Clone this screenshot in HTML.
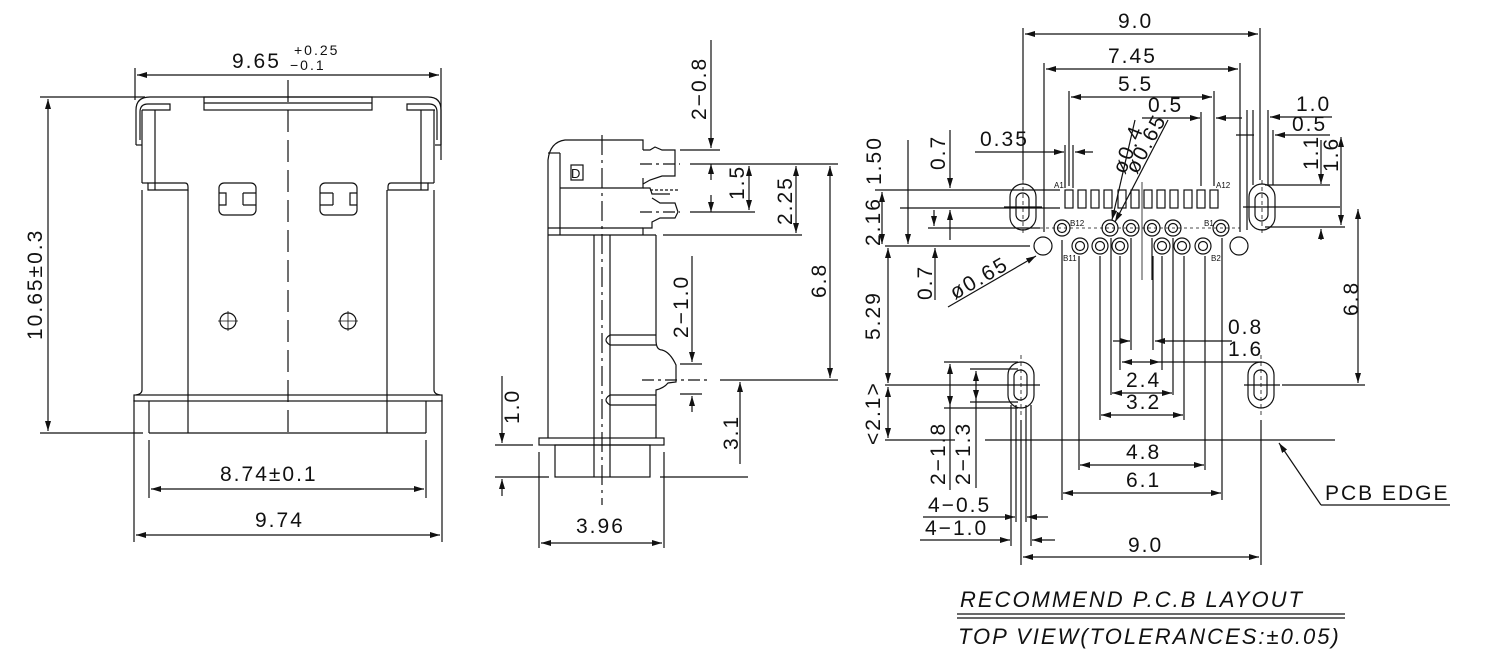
<!DOCTYPE html>
<html><head><meta charset="utf-8"><style>
html,body{margin:0;padding:0;background:#fff;}
svg{display:block}
text{font-family:"Liberation Sans","DejaVu Sans",sans-serif;fill:#111;letter-spacing:2px;}
</style></head><body>
<svg width="1486" height="668" viewBox="0 0 1486 668" xmlns="http://www.w3.org/2000/svg">
<defs>
<marker id="a" viewBox="0 0 10 6" refX="10" refY="3" markerWidth="10" markerHeight="6" markerUnits="userSpaceOnUse" orient="auto-start-reverse"><path d="M0,0 L10,3 L0,6 z" fill="#111"/></marker>
</defs>
<g stroke="#111" stroke-width="1.2" fill="none">
<!-- ===== LEFT VIEW ===== -->
<line x1="135" y1="68" x2="135" y2="100"/><line x1="441" y1="68" x2="441" y2="160"/>
<line x1="137" y1="75" x2="439" y2="75" marker-start="url(#a)" marker-end="url(#a)"/>
<line x1="40" y1="97" x2="145" y2="97"/><line x1="40" y1="433" x2="143" y2="433"/>
<line x1="48" y1="99" x2="48" y2="431" marker-start="url(#a)" marker-end="url(#a)"/>
<path d="M136,145 L136,110 Q136,97 150,97 L428,97 Q441,97 441,110 L441,145"/>
<line x1="136" y1="145" x2="142" y2="145"/><line x1="435" y1="145" x2="441" y2="145"/>
<rect x="204" y="97" width="168" height="13"/>
<line x1="204" y1="103" x2="372" y2="103"/>
<path d="M140,140 L140,112 Q140,104 148,104 L170,104 L170,110 L142,110"/>
<path d="M437,140 L437,112 Q437,104 429,104 L407,104 L407,110 L435,110"/>
<line x1="142" y1="110" x2="142" y2="183"/><line x1="434" y1="110" x2="434" y2="183"/>
<line x1="155" y1="110" x2="155" y2="190"/><line x1="421" y1="110" x2="421" y2="190"/>
<line x1="142" y1="183" x2="148" y2="183"/><line x1="428" y1="183" x2="434" y2="183"/>
<path d="M148,183 L185,183 Q188,183 188,187 L188,190 L148,190 Z"/>
<path d="M428,183 L391,183 Q388,183 388,187 L388,190 L428,190 Z"/>
<line x1="142" y1="190" x2="142" y2="390"/><line x1="434" y1="190" x2="434" y2="390"/>
<line x1="188" y1="190" x2="188" y2="433"/><line x1="387" y1="190" x2="387" y2="433"/>
<path d="M142,390 Q142,394 136,395 M434,390 Q434,394 440,395"/>
<rect x="134" y="395" width="308" height="6"/>
<line x1="149" y1="401" x2="149" y2="433"/><line x1="426" y1="401" x2="426" y2="433"/>
<line x1="149" y1="433" x2="426" y2="433"/>
<line x1="288" y1="80" x2="288" y2="440" stroke-dasharray="22,8"/>
<rect x="219" y="183" width="37" height="32" rx="5"/><path d="M219,193 L226,193 L226,205 L219,205 M243,193 L256,193 M243,205 L256,205 M243,193 L243,205"/>
<rect x="320" y="183" width="37" height="32" rx="5"/><path d="M357,193 L350,193 L350,205 L357,205 M333,193 L320,193 M333,205 L320,205 M333,193 L333,205"/>
<circle cx="228" cy="321" r="8"/><line x1="218" y1="321" x2="238" y2="321" stroke-width="0.8"/><line x1="228" y1="311" x2="228" y2="331" stroke-width="0.8"/>
<circle cx="348" cy="321" r="8"/><line x1="338" y1="321" x2="358" y2="321" stroke-width="0.8"/><line x1="348" y1="311" x2="348" y2="331" stroke-width="0.8"/>
<line x1="149" y1="440" x2="149" y2="498"/><line x1="426" y1="440" x2="426" y2="498"/>
<line x1="151" y1="489" x2="424" y2="489" marker-start="url(#a)" marker-end="url(#a)"/>
<line x1="134" y1="400" x2="134" y2="542"/><line x1="442" y1="400" x2="442" y2="542"/>
<line x1="136" y1="535" x2="440" y2="535" marker-start="url(#a)" marker-end="url(#a)"/>

<!-- ===== MIDDLE VIEW ===== -->
<path d="M548,235 L548,160 Q550,142 565,140 L643,140 L643,150"/>
<line x1="548" y1="153" x2="560" y2="153"/><line x1="560" y1="153" x2="560" y2="235"/>
<path d="M560,188 L643,188 L643,178"/>
<rect x="571" y="165" width="12" height="15"/>
<path d="M643,150 L650,150 L655,147 L662,150 L675,150 L675,176 L662,176 L650,180 L643,184"/>
<path d="M643,188 L650,188 L652,194 L670,194"/><line x1="650" y1="190" x2="680" y2="190" stroke-dasharray="3,2"/>
<path d="M652,198 L660,203 L675,203 L678,212 L675,218 L660,218 L652,222 L652,228 L643,228 L643,235"/>
<line x1="548" y1="228" x2="643" y2="228"/><line x1="548" y1="235" x2="656" y2="235"/>
<line x1="548" y1="235" x2="548" y2="438"/><line x1="656" y1="235" x2="656" y2="340"/>
<line x1="594" y1="235" x2="594" y2="477"/><line x1="610" y1="235" x2="610" y2="477"/>
<path d="M656,340 Q656,350 662,350 Q670,352 676,365 L676,382 L668,383 Q664,388 656,390 L656,438"/>
<path d="M610,335 L656,335 M610,345 L656,345 M610,335 Q602,340 610,345"/>
<path d="M610,395 L656,395 M610,405 L656,405 M610,395 Q602,400 610,405"/>
<rect x="539" y="438" width="125" height="7"/>
<rect x="555" y="445" width="95" height="32"/>
<line x1="602" y1="135" x2="602" y2="505" stroke-dasharray="20,5,3,5"/>
<line x1="640" y1="164" x2="680" y2="164" stroke-dasharray="12,4,3,4"/>
<line x1="640" y1="212" x2="680" y2="212" stroke-dasharray="12,4,3,4"/>
<line x1="642" y1="380" x2="710" y2="380" stroke-dasharray="12,4,3,4"/>
<line x1="711" y1="40" x2="711" y2="148" marker-end="url(#a)"/><line x1="680" y1="150" x2="720" y2="150"/>
<line x1="690" y1="164" x2="838" y2="164"/><line x1="690" y1="212" x2="755" y2="212"/>
<line x1="711" y1="180" x2="711" y2="164" marker-end="url(#a)"/><line x1="711" y1="195" x2="711" y2="212" marker-end="url(#a)"/>
<line x1="749" y1="166" x2="749" y2="210" marker-start="url(#a)" marker-end="url(#a)"/>
<line x1="663" y1="235" x2="802" y2="235"/>
<line x1="796" y1="166" x2="796" y2="233" marker-start="url(#a)" marker-end="url(#a)"/>
<line x1="830" y1="166" x2="830" y2="378" marker-start="url(#a)" marker-end="url(#a)"/>
<line x1="720" y1="380" x2="838" y2="380"/>
<line x1="692" y1="256" x2="692" y2="362" marker-end="url(#a)"/><line x1="680" y1="364" x2="702" y2="364"/>
<line x1="680" y1="394" x2="702" y2="394"/><line x1="692" y1="412" x2="692" y2="396" marker-end="url(#a)"/>
<line x1="740" y1="464" x2="740" y2="382" marker-end="url(#a)"/><line x1="660" y1="477" x2="748" y2="477"/>
<line x1="502" y1="376" x2="502" y2="443" marker-end="url(#a)"/><line x1="495" y1="445" x2="533" y2="445"/>
<line x1="495" y1="477" x2="549" y2="477"/><line x1="502" y1="496" x2="502" y2="479" marker-end="url(#a)"/>
<line x1="539" y1="452" x2="539" y2="548"/><line x1="664" y1="452" x2="664" y2="548"/>
<line x1="541" y1="543" x2="662" y2="543" marker-start="url(#a)" marker-end="url(#a)"/>

<!-- ===== RIGHT VIEW ===== -->
<rect x="1010" y="184" width="26" height="46" rx="13"/><rect x="1016" y="193" width="13" height="28" rx="6.5"/>
<rect x="1249" y="184" width="26" height="46" rx="13"/><rect x="1255" y="193" width="13" height="28" rx="6.5"/>
<line x1="1004" y1="207" x2="1042" y2="207"/><line x1="1243" y1="207" x2="1340" y2="207"/>
<rect x="1008" y="362" width="26" height="46" rx="13"/><rect x="1014" y="370" width="13" height="30" rx="6.5"/>
<rect x="1248" y="362" width="26" height="46" rx="13"/><rect x="1254" y="370" width="13" height="30" rx="6.5"/>
<line x1="885" y1="385" x2="1040" y2="385"/><line x1="1244" y1="385" x2="1280" y2="385"/><line x1="1282" y1="385" x2="1365" y2="385"/>
<g>
<rect x="1065" y="190" width="8" height="18"/><rect x="1078" y="190" width="8" height="18"/><rect x="1091" y="190" width="8" height="18"/><rect x="1104" y="190" width="8" height="18"/><rect x="1118" y="190" width="8" height="18"/><rect x="1131" y="190" width="8" height="18"/><rect x="1144" y="190" width="8" height="18"/><rect x="1157" y="190" width="8" height="18"/><rect x="1170" y="190" width="8" height="18"/><rect x="1184" y="190" width="8" height="18"/><rect x="1197" y="190" width="8" height="18"/><rect x="1210" y="190" width="8" height="18"/>
</g>
<g>
<circle cx="1062" cy="228" r="8"/><circle cx="1062" cy="228" r="4.5"/>
<circle cx="1110" cy="228" r="8"/><circle cx="1110" cy="228" r="4.5"/>
<circle cx="1131" cy="228" r="8"/><circle cx="1131" cy="228" r="4.5"/>
<circle cx="1152" cy="228" r="8"/><circle cx="1152" cy="228" r="4.5"/>
<circle cx="1173" cy="228" r="8"/><circle cx="1173" cy="228" r="4.5"/>
<circle cx="1221" cy="228" r="8"/><circle cx="1221" cy="228" r="4.5"/>
<circle cx="1080" cy="246" r="8"/><circle cx="1080" cy="246" r="4.5"/>
<circle cx="1100" cy="246" r="8"/><circle cx="1100" cy="246" r="4.5"/>
<circle cx="1120" cy="246" r="8"/><circle cx="1120" cy="246" r="4.5"/>
<circle cx="1162" cy="246" r="8"/><circle cx="1162" cy="246" r="4.5"/>
<circle cx="1182" cy="246" r="8"/><circle cx="1182" cy="246" r="4.5"/>
<circle cx="1203" cy="246" r="8"/><circle cx="1203" cy="246" r="4.5"/>
<circle cx="1043" cy="246" r="9"/><circle cx="1239" cy="246" r="9"/>
</g>
<line x1="1040" y1="228" x2="1240" y2="228" stroke-dasharray="3,3" stroke-width="0.8"/>
<line x1="875" y1="190" x2="1060" y2="190"/><line x1="900" y1="208" x2="1060" y2="208"/>
<line x1="928" y1="228" x2="1040" y2="228"/><line x1="885" y1="246" x2="1030" y2="246"/>
<line x1="882" y1="192" x2="882" y2="244" marker-start="url(#a)" marker-end="url(#a)"/>
<line x1="908" y1="140" x2="908" y2="244" marker-end="url(#a)"/>
<line x1="950" y1="130" x2="950" y2="188" marker-end="url(#a)"/>
<line x1="950" y1="240" x2="950" y2="210" marker-end="url(#a)"/>
<line x1="934" y1="210" x2="934" y2="226" marker-end="url(#a)"/>
<line x1="888" y1="248" x2="888" y2="383" marker-start="url(#a)" marker-end="url(#a)"/>
<line x1="888" y1="387" x2="888" y2="438" marker-start="url(#a)" marker-end="url(#a)"/>
<line x1="885" y1="440" x2="955" y2="440"/><line x1="985" y1="440" x2="1335" y2="440"/>
<line x1="935" y1="300" x2="935" y2="248" marker-end="url(#a)"/>
<line x1="948" y1="307" x2="1036" y2="256" marker-end="url(#a)"/>
<line x1="975" y1="152" x2="1064" y2="152" marker-end="url(#a)"/><line x1="1093" y1="152" x2="1075" y2="152" marker-end="url(#a)"/>
<line x1="1065" y1="145" x2="1065" y2="188"/><line x1="1073" y1="145" x2="1073" y2="188"/>
<line x1="1135" y1="120" x2="1112" y2="220" marker-end="url(#a)"/>
<line x1="1168" y1="120" x2="1115" y2="222" marker-end="url(#a)"/>
<line x1="1023" y1="28" x2="1023" y2="180"/><line x1="1260" y1="28" x2="1260" y2="180"/>
<line x1="1025" y1="34" x2="1258" y2="34" marker-start="url(#a)" marker-end="url(#a)"/>
<line x1="1044" y1="63" x2="1044" y2="232"/><line x1="1240" y1="63" x2="1240" y2="232"/>
<line x1="1046" y1="69" x2="1238" y2="69" marker-start="url(#a)" marker-end="url(#a)"/>
<line x1="1069" y1="91" x2="1069" y2="186"/><line x1="1214" y1="91" x2="1214" y2="186"/>
<line x1="1071" y1="97" x2="1212" y2="97" marker-start="url(#a)" marker-end="url(#a)"/>
<line x1="1142" y1="118" x2="1200" y2="118" marker-end="url(#a)"/><line x1="1201" y1="112" x2="1201" y2="186"/>
<line x1="1242" y1="118" x2="1216" y2="118" marker-end="url(#a)"/>
<line x1="1236" y1="135" x2="1254" y2="135"/><line x1="1247" y1="110" x2="1247" y2="230"/><line x1="1253" y1="110" x2="1253" y2="185"/>
<line x1="1268" y1="110" x2="1268" y2="185"/><line x1="1273" y1="130" x2="1273" y2="185"/>
<line x1="1332" y1="117" x2="1270" y2="117" marker-end="url(#a)"/>
<line x1="1330" y1="135" x2="1275" y2="135" marker-end="url(#a)"/>
<line x1="1265" y1="185" x2="1330" y2="185"/><line x1="1265" y1="227" x2="1345" y2="227"/>
<line x1="1321" y1="140" x2="1321" y2="184" marker-end="url(#a)"/><line x1="1321" y1="240" x2="1321" y2="229" marker-end="url(#a)"/>
<line x1="1341" y1="137" x2="1341" y2="225" marker-start="url(#a)" marker-end="url(#a)"/>
<line x1="1358" y1="209" x2="1358" y2="383" marker-start="url(#a)" marker-end="url(#a)"/>
<line x1="1062" y1="240" x2="1062" y2="500"/><line x1="1079" y1="256" x2="1079" y2="470"/>
<line x1="1100" y1="256" x2="1100" y2="420"/><line x1="1111" y1="238" x2="1111" y2="395"/>
<line x1="1120" y1="256" x2="1120" y2="370"/><line x1="1131" y1="238" x2="1131" y2="350"/>
<line x1="1152" y1="238" x2="1152" y2="280"/>
<line x1="1153" y1="256" x2="1153" y2="350"/><line x1="1162" y1="256" x2="1162" y2="370"/>
<line x1="1173" y1="238" x2="1173" y2="395"/><line x1="1184" y1="256" x2="1184" y2="420"/>
<line x1="1205" y1="256" x2="1205" y2="470"/><line x1="1222" y1="238" x2="1222" y2="500"/>
<line x1="1113" y1="341" x2="1130" y2="341" marker-end="url(#a)"/><line x1="1232" y1="341" x2="1155" y2="341" marker-end="url(#a)"/>
<line x1="1122" y1="362" x2="1160" y2="362" marker-start="url(#a)" marker-end="url(#a)"/><line x1="1160" y1="362" x2="1262" y2="362"/>
<line x1="1112" y1="393" x2="1172" y2="393" marker-start="url(#a)" marker-end="url(#a)"/>
<line x1="1101" y1="415" x2="1183" y2="415" marker-start="url(#a)" marker-end="url(#a)"/>
<line x1="1080" y1="465" x2="1204" y2="465" marker-start="url(#a)" marker-end="url(#a)"/>
<line x1="1063" y1="493" x2="1221" y2="493" marker-start="url(#a)" marker-end="url(#a)"/>
<line x1="944" y1="362" x2="1018" y2="362"/><line x1="944" y1="408" x2="1018" y2="408"/>
<line x1="970" y1="369" x2="1018" y2="369"/><line x1="970" y1="402" x2="1018" y2="402"/>
<line x1="950" y1="364" x2="950" y2="406" marker-start="url(#a)" marker-end="url(#a)"/>
<line x1="976" y1="371" x2="976" y2="400" marker-start="url(#a)" marker-end="url(#a)"/>
<line x1="950" y1="406" x2="950" y2="490"/><line x1="976" y1="400" x2="976" y2="488"/>
<line x1="1011" y1="405" x2="1011" y2="546"/><line x1="1016" y1="405" x2="1016" y2="522"/>
<line x1="1021" y1="420" x2="1021" y2="565"/><line x1="1026" y1="405" x2="1026" y2="522"/><line x1="1031" y1="405" x2="1031" y2="546"/>
<line x1="923" y1="517" x2="1015" y2="517" marker-end="url(#a)"/><line x1="1048" y1="517" x2="1027" y2="517" marker-end="url(#a)"/>
<line x1="920" y1="540" x2="1010" y2="540" marker-end="url(#a)"/><line x1="1055" y1="540" x2="1032" y2="540" marker-end="url(#a)"/>
<line x1="1261" y1="420" x2="1261" y2="565"/>
<line x1="1023" y1="557" x2="1259" y2="557" marker-start="url(#a)" marker-end="url(#a)"/>
<line x1="1321" y1="505" x2="1279" y2="443" marker-end="url(#a)"/><line x1="1321" y1="505" x2="1450" y2="505"/>
<line x1="957" y1="614" x2="1345" y2="614"/><line x1="957" y1="618" x2="1345" y2="618"/>
</g>
<g stroke="#111" stroke-width="0.8" fill="none">
<line x1="1023" y1="180" x2="1023" y2="236" stroke-dasharray="4,3"/><line x1="1262" y1="180" x2="1262" y2="236" stroke-dasharray="4,3"/>
<line x1="1021" y1="355" x2="1021" y2="415" stroke-dasharray="4,3"/><line x1="1261" y1="355" x2="1261" y2="415" stroke-dasharray="4,3"/>
<line x1="1142" y1="182" x2="1142" y2="280"/>
</g>
<g font-size="21">
<text x="232" y="68">9.65</text><text x="290" y="70" font-size="14">−0.1</text><text x="294" y="55" font-size="14">+0.25</text>
<text transform="translate(42,340) rotate(-90)">10.65±0.3</text>
<text x="220" y="481">8.74±0.1</text>
<text x="255" y="527">9.74</text>
<text transform="translate(706,120) rotate(-90)">2−0.8</text>
<text transform="translate(744,200) rotate(-90)">1.5</text>
<text transform="translate(792,225) rotate(-90)">2.25</text>
<text transform="translate(826,298) rotate(-90)">6.8</text>
<text transform="translate(688,338) rotate(-90)">2−1.0</text>
<text transform="translate(519,424) rotate(-90)">1.0</text>
<text transform="translate(738,450) rotate(-90)">3.1</text>
<text x="576" y="533">3.96</text>
<text x="1118" y="28">9.0</text>
<text x="1108" y="63">7.45</text>
<text x="1118" y="91">5.5</text>
<text x="1148" y="112">0.5</text>
<text x="1296" y="111">1.0</text>
<text x="1292" y="131">0.5</text>
<text x="980" y="146">0.35</text>
<text transform="translate(881,185) rotate(-90)">1.50</text>
<text transform="translate(945,170) rotate(-90)">0.7</text>
<text transform="translate(880,246) rotate(-90)">2.16</text>
<text transform="translate(1318,170) rotate(-90)">1.1</text>
<text transform="translate(1338,172) rotate(-90)">1.6</text>
<text transform="translate(1125,175) rotate(-68)">ø0.4</text>
<text transform="translate(1137,175) rotate(-62)">ø0.65</text>
<text transform="translate(932,300) rotate(-90)">0.7</text>
<text transform="translate(955,300) rotate(-30)">ø0.65</text>
<text transform="translate(880,340) rotate(-90)">5.29</text>
<text transform="translate(1358,316) rotate(-90)">6.8</text>
<text transform="translate(880,445) rotate(-90)">&lt;2.1&gt;</text>
<text transform="translate(945,485) rotate(-90)">2−1.8</text>
<text transform="translate(970,485) rotate(-90)">2−1.3</text>
<text x="1228" y="334">0.8</text>
<text x="1228" y="356">1.6</text>
<text x="1126" y="387">2.4</text>
<text x="1126" y="409">3.2</text>
<text x="1126" y="459">4.8</text>
<text x="1126" y="487">6.1</text>
<text x="928" y="512">4−0.5</text>
<text x="925" y="535">4−1.0</text>
<text x="1128" y="552">9.0</text>
<text x="1325" y="500">PCB EDGE</text>
<text x="960" y="607" font-style="italic" font-size="22">RECOMMEND P.C.B LAYOUT</text>
<text x="958" y="644" font-style="italic" font-size="22">TOP VIEW(TOLERANCES:±0.05)</text>
</g>
<g font-size="8">
<text x="1054" y="188" style="letter-spacing:0">A1</text><text x="1216" y="188" style="letter-spacing:0">A12</text>
<text x="1070" y="226" style="letter-spacing:0">B12</text><text x="1204" y="226" style="letter-spacing:0">B1</text>
<text x="1063" y="261" style="letter-spacing:0">B11</text><text x="1211" y="261" style="letter-spacing:0">B2</text>
<text x="571" y="178" font-size="13" style="letter-spacing:0">D</text>
</g>
</svg>
</body></html>
